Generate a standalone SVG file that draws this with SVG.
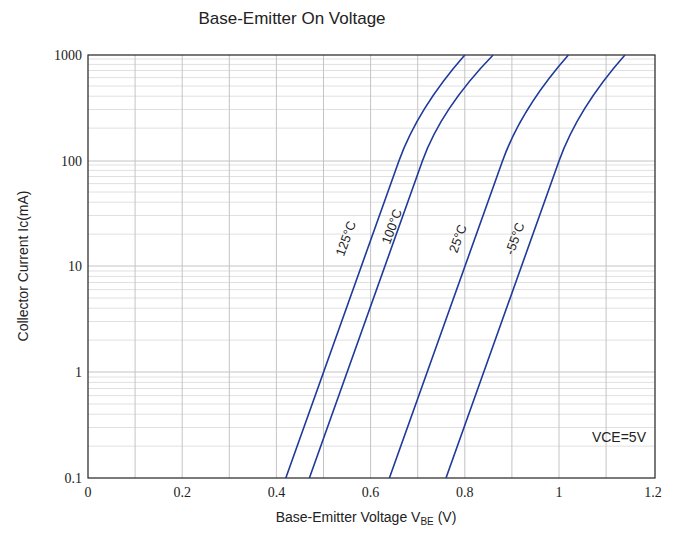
<svg xmlns="http://www.w3.org/2000/svg" width="683" height="540" viewBox="0 0 683 540">
<style>
.bg{fill:#ffffff}
.grid{stroke:#c4c4c4;stroke-width:1;fill:none}
.minor{stroke:#e0e0e0;stroke-width:1;fill:none}
.frame{stroke:#222;stroke-width:1.2;fill:none}
.curve{stroke:#1f3a9a;stroke-width:1.6;fill:none}
.tick{font-family:"Liberation Serif",serif;font-size:14px;fill:#222}
.title{font-family:"Liberation Sans",Arial,sans-serif;font-size:17px;fill:#222}
.axis{font-family:"Liberation Sans",Arial,sans-serif;font-size:14px;fill:#222}
.clab{font-family:"Liberation Sans",Arial,sans-serif;font-size:13px;fill:#222}
</style>
<rect class="bg" x="0" y="0" width="683" height="540"/>
<text id="title" class="title" x="292" y="24" text-anchor="middle">Base-Emitter On Voltage</text>
<g id="minor-grid">
<path class="minor" d="M88,446.1H655M88,427.5H655M88,414.2H655M88,404H655M88,395.6H655M88,388.5H655M88,382.4H655M88,377H655
M88,340.1H655M88,321.5H655M88,308.2H655M88,298H655M88,289.6H655M88,282.5H655M88,276.4H655M88,271H655
M88,234.1H655M88,215.5H655M88,202.2H655M88,192H655M88,183.6H655M88,176.5H655M88,170.4H655M88,165H655
M88,128.1H655M88,109.5H655M88,96.2H655M88,86H655M88,77.6H655M88,70.5H655M88,64.4H655M88,59H655"/>
</g>
<g id="major-grid">
<path class="grid" d="M135.1,55V478M182.2,55V478M229.3,55V478M276.4,55V478M323.5,55V478M370.6,55V478M417.7,55V478M464.8,55V478M511.9,55V478M559,55V478M606.1,55V478
M88,372H655M88,266H655M88,161H655"/>
</g>
<rect id="plot-frame" class="frame" x="88" y="55" width="567" height="423"/>
<g id="y-ticks">
<text class="tick" x="82" y="60" text-anchor="end">1000</text>
<text class="tick" x="82" y="166" text-anchor="end">100</text>
<text class="tick" x="82" y="271" text-anchor="end">10</text>
<text class="tick" x="82" y="377" text-anchor="end">1</text>
<text class="tick" x="82" y="483" text-anchor="end">0.1</text>
</g>
<g id="x-ticks">
<text class="tick" x="88" y="497" text-anchor="middle">0</text>
<text class="tick" x="182.2" y="497" text-anchor="middle">0.2</text>
<text class="tick" x="276.4" y="497" text-anchor="middle">0.4</text>
<text class="tick" x="370.6" y="497" text-anchor="middle">0.6</text>
<text class="tick" x="464.8" y="497" text-anchor="middle">0.8</text>
<text class="tick" x="559" y="497" text-anchor="middle">1</text>
<text class="tick" x="653" y="497" text-anchor="middle">1.2</text>
</g>
<text id="x-title" class="axis" x="366" y="522" text-anchor="middle">Base-Emitter Voltage V<tspan font-size="10" dy="3">BE</tspan><tspan dy="-3"> (V)</tspan></text>
<text id="y-title" class="axis" transform="translate(28,266) rotate(-90)" text-anchor="middle">Collector Current Ic(mA)</text>
<g id="curves">
<path id="c125" class="curve" d="M285.8,478L398.9,161Q417.8,108.5 464.8,55"/>
<path id="c100" class="curve" d="M309.4,478L422.4,161Q441.2,108.5 493.1,55"/>
<path id="c25" class="curve" d="M389.4,478L502.5,161Q521.3,108.5 568.4,55"/>
<path id="cm55" class="curve" d="M446,478L559,161Q577.8,108.5 624.9,55"/>
</g>
<g id="curve-labels">
<text class="clab" transform="translate(350,240) rotate(-70)" text-anchor="middle">125°C</text>
<text class="clab" transform="translate(396,228) rotate(-70)" text-anchor="middle">100°C</text>
<text class="clab" transform="translate(462,240) rotate(-70)" text-anchor="middle">25°C</text>
<text class="clab" transform="translate(519,240) rotate(-70)" text-anchor="middle">-55°C</text>
</g>
<text id="vce" class="axis" x="646" y="442" text-anchor="end">VCE=5V</text>
</svg>
